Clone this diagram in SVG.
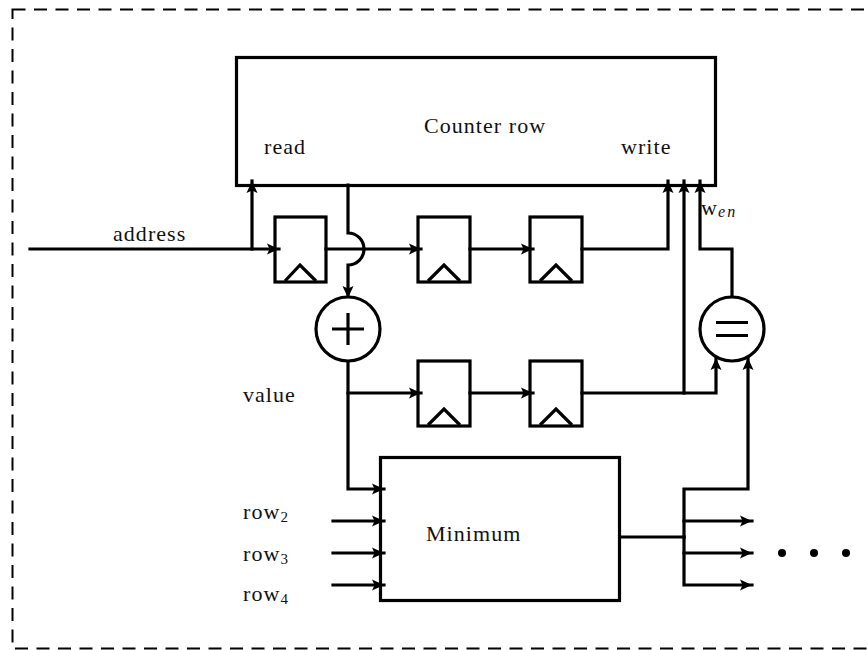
<svg xmlns="http://www.w3.org/2000/svg" width="868" height="650" viewBox="0 0 868 650">
<style>
text{font-family:"Liberation Serif","Times New Roman",serif;font-size:22px;letter-spacing:1.05px;fill:#111}
.s{font-size:15px;letter-spacing:0}
.i{font-size:16px;font-style:italic;letter-spacing:2.2px}
.l{fill:none;stroke:#000;stroke-width:3.2;stroke-linecap:square;stroke-linejoin:miter}
.a{marker-end:url(#ah)}
.b{fill:#fff;stroke:#000;stroke-width:3.2}
.t{fill:none;stroke:#000;stroke-width:3.2}
</style>
<defs>
<marker id="ah" markerUnits="userSpaceOnUse" markerWidth="14" markerHeight="14" refX="12" refY="5.500" orient="auto" overflow="visible">
<path d="M0 0L12 5.500L0 11L2.500 5.500Z" fill="#000"/>
</marker>
</defs>
<rect id="frame" x="12.500" y="9.500" width="860" height="639" fill="none" stroke="#000" stroke-width="2" stroke-dasharray="13 8.500"/>
<g id="connectors">
<path class="l a" d="M30 249H279"/>
<path class="l a" d="M252 249V181"/>
<path class="l a" d="M326 249H421"/>
<path class="l a" d="M348 185V233A16 16 0 0 1 348 265V298"/>
<path class="l a" d="M470 249H533"/>
<path class="l a" d="M582 249H668V181"/>
<path class="l a" d="M348 361V489H384"/>
<path class="l a" d="M348 393H421"/>
<path class="l a" d="M470 393H533"/>
<path class="l a" d="M582 393H716V358"/>
<path class="l a" d="M684 393V181"/>
<path class="l a" d="M732 297V249H700V181"/>
<path class="l a" d="M333 521H384"/>
<path class="l a" d="M333 553H384"/>
<path class="l a" d="M333 585H384"/>
<path class="l" d="M620 537H684"/>
<path class="l a" d="M684 537V489H748V358"/>
<path class="l a" d="M684 521H752"/>
<path class="l a" d="M684 537V585H752"/>
<path class="l a" d="M684 553H752"/>
</g>
<g id="counter-row"><rect x="236.500" y="57.500" width="479" height="128" fill="none" stroke="#000" stroke-width="3.200"/>
<text x="424" y="133">Counter row</text><text x="264" y="154">read</text><text x="621" y="154">write</text></g>
<g id="ff1"><rect class="t" x="275" y="217" width="51" height="65"/><path class="t" d="M285 281L300 265L316 281"/></g>
<g id="ff2"><rect class="t" x="418" y="217" width="52" height="65"/><path class="t" d="M428 281L444 265L460 281"/></g>
<g id="ff3"><rect class="t" x="530" y="217" width="52" height="65"/><path class="t" d="M540 281L556 265L572 281"/></g>
<g id="ff4"><rect class="t" x="418" y="361" width="52" height="65"/><path class="t" d="M428 425L444 409L460 425"/></g>
<g id="ff5"><rect class="t" x="530" y="361" width="52" height="65"/><path class="t" d="M540 425L556 409L572 425"/></g>
<g id="adder"><circle class="b" cx="348" cy="329" r="32"/><path class="t" d="M332 329H364M348 313V345"/></g>
<g id="equal"><circle class="b" cx="732" cy="329" r="32"/><path class="t" d="M716 322.500H748M716 335.500H748"/></g>
<g id="minimum"><rect class="t" x="380.500" y="457.500" width="239" height="143"/><text x="426" y="541">Minimum</text></g>
<g id="labels">
<text x="113" y="241">address</text>
<text x="243" y="402">value</text>
<text x="701" y="215">w<tspan class="i" dy="2">en</tspan></text>
<text x="243" y="519">row<tspan class="s" dy="3">2</tspan></text>
<text x="243" y="561">row<tspan class="s" dy="3">3</tspan></text>
<text x="243" y="601">row<tspan class="s" dy="3">4</tspan></text>
</g>
<g id="dots"><circle cx="782" cy="553" r="4"/><circle cx="814" cy="553" r="4"/><circle cx="846" cy="553" r="4"/></g>
</svg>
